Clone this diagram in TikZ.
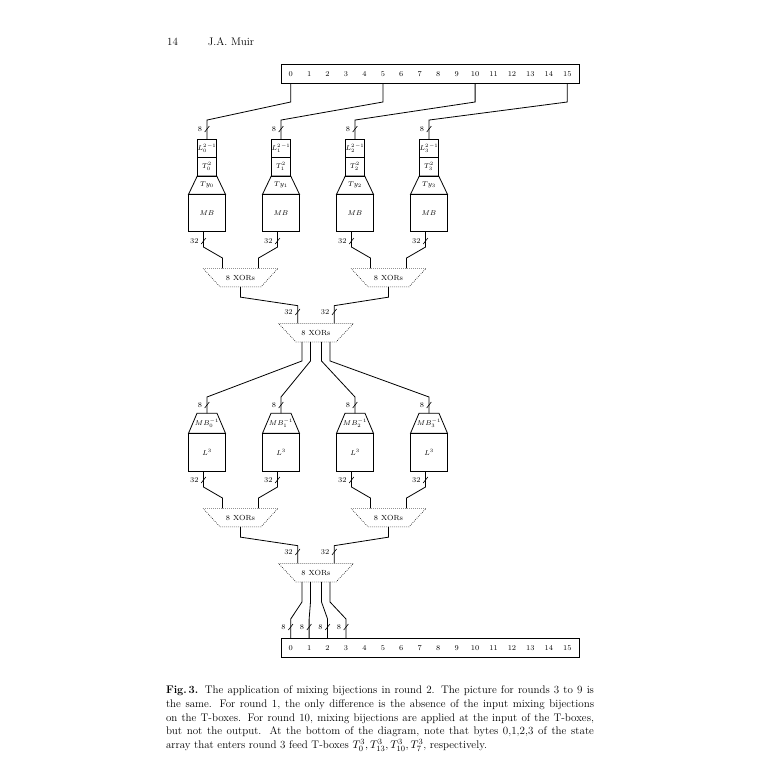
\documentclass[tikz,border=0pt]{standalone}
\usetikzlibrary{calc}

\tikzset{
  every node/.style={font=\fontsize{7.4}{8}\selectfont, inner sep=0pt, outer sep=0pt},
  wire/.style={line width=0.8pt},
  statebox/.style={draw, line width=0.8pt, rectangle, minimum width=298pt, minimum height=19pt},
  lbox/.style={draw, line width=0.8pt, rectangle, minimum width=19.5pt, minimum height=18.5pt},
  mbbox/.style={draw, line width=0.8pt, rectangle, minimum width=37pt, minimum height=36.7pt},
  tybox/.style={rectangle, minimum width=37pt, minimum height=18.3pt},
  mbibox/.style={rectangle, minimum width=37pt, minimum height=20pt},
  xorbox/.style={rectangle, minimum width=75pt, minimum height=18.5pt},
  xorline/.style={line width=0.6pt, dash pattern=on 0.7pt off 1.3pt},
  bytenum/.style={anchor=base, text height=4.8pt, text depth=0pt},
}

% slash on a bus, with its width
\newcommand\busmark[2]{%
  \draw[line width=0.6pt] #1 ++(-2.3,3) -- ++(4.6,-6);
  \node[anchor=east, xshift=-5pt] at #1 {#2};}
% outline of a trapezoid round a node: top inset, bottom inset
\newcommand\trapdraw[4][line width=0.8pt]{%
  \draw[#1] ($(#2.north west)+(#3,0)$) -- ($(#2.north east)+(-#3,0)$)
    -- ($(#2.south east)+(-#4,0)$) -- ($(#2.south west)+(#4,0)$) -- cycle;}

\begin{document}
\begin{tikzpicture}[x=1pt,y=-1pt]
\useasboundingbox (0,0) rectangle (758,776);

% page head
\node[font=\fontsize{11}{13}\selectfont] (pageno) at (172.5,42) {14};
\node[font=\fontsize{11}{13}\selectfont] (author) at (231,42) {J.A. Muir};

% state arrays
\node[statebox] (inarr) at (430,74) {};
\node[statebox] (outarr) at (430,648) {};
\foreach \i in {0,...,15} {
  \node[bytenum] (in\i) at ({290.7+18.44*\i},76.9) {\i};
  \node[bytenum] (out\i) at ({290.7+18.44*\i},650.9) {\i};
}

% T-boxes of round 2
\node[lbox] (L0) at (207,148.3) {${L_0^2}^{-1}$};
\node[lbox] (L1) at (281,148.3) {${L_1^2}^{-1}$};
\node[lbox] (L2) at (355,148.3) {${L_2^2}^{-1}$};
\node[lbox] (L3) at (429,148.3) {${L_3^2}^{-1}$};
\node[lbox] (T0) at (207,166.8) {$T_0^2$};
\node[lbox] (T1) at (281,166.8) {$T_1^2$};
\node[lbox] (T2) at (355,166.8) {$T_2^2$};
\node[lbox] (T3) at (429,166.8) {$T_3^2$};
\node[tybox] (Ty0) at (207,185.2) {$Ty_0$};
\node[tybox] (Ty1) at (281,185.2) {$Ty_1$};
\node[tybox] (Ty2) at (355,185.2) {$Ty_2$};
\node[tybox] (Ty3) at (429,185.2) {$Ty_3$};
\trapdraw{Ty0}{8.75}{0}
\trapdraw{Ty1}{8.75}{0}
\trapdraw{Ty2}{8.75}{0}
\trapdraw{Ty3}{8.75}{0}
\node[mbbox] (MB0) at (207,212.7) {$MB$};
\node[mbbox] (MB1) at (281,212.7) {$MB$};
\node[mbbox] (MB2) at (355,212.7) {$MB$};
\node[mbbox] (MB3) at (429,212.7) {$MB$};

% XOR tables
\node[xorbox] (xorA) at (240.5,277.6) {8 XORs};
\node[xorbox] (xorB) at (388.5,277.6) {8 XORs};
\node[xorbox] (xorAB) at (316,332.7) {8 XORs};
\trapdraw[xorline]{xorA}{0}{17}
\trapdraw[xorline]{xorB}{0}{17}
\trapdraw[xorline]{xorAB}{0}{17.5}

% mixing bijections removed
\node[mbibox] (MBi0) at (207,423.3) {$MB_0^{-1}$};
\node[mbibox] (MBi1) at (281,423.3) {$MB_1^{-1}$};
\node[mbibox] (MBi2) at (355,423.3) {$MB_2^{-1}$};
\node[mbibox] (MBi3) at (429,423.3) {$MB_3^{-1}$};
\trapdraw{MBi0}{8.5}{0}
\trapdraw{MBi1}{8.5}{0}
\trapdraw{MBi2}{8.5}{0}
\trapdraw{MBi3}{8.5}{0}
\node[mbbox, minimum height=38.4pt] (LL0) at (207,452.5) {$L^3$};
\node[mbbox, minimum height=38.4pt] (LL1) at (281,452.5) {$L^3$};
\node[mbbox, minimum height=38.4pt] (LL2) at (355,452.5) {$L^3$};
\node[mbbox, minimum height=38.4pt] (LL3) at (429,452.5) {$L^3$};
\foreach \i in {0,...,3}
  \draw[line width=1.5pt] (LL\i.north west) -- (LL\i.north east);

\node[xorbox] (xorC) at (240.5,517.6) {8 XORs};
\node[xorbox] (xorD) at (388.5,517.6) {8 XORs};
\node[xorbox] (xorCD) at (316,572.7) {8 XORs};
\trapdraw[xorline]{xorC}{0}{17}
\trapdraw[xorline]{xorD}{0}{17}
\trapdraw[xorline]{xorCD}{0}{17.5}

% bytes 0,5,10,15 into the T-boxes
\draw[wire] (in0 |- inarr.south) -- ++(0,18.5) -- ($(L0.north)+(0,-19)$) -- (L0.north);
\draw[wire] (in5 |- inarr.south) -- ++(0,18.5) -- ($(L1.north)+(0,-19)$) -- (L1.north);
\draw[wire] (in10 |- inarr.south) -- ++(0,18.5) -- ($(L2.north)+(0,-19)$) -- (L2.north);
\draw[wire] (in15 |- inarr.south) -- ++(0,18.5) -- ($(L3.north)+(0,-19)$) -- (L3.north);
\busmark{($(L0.north)+(0,-10)$)}{8}
\busmark{($(L1.north)+(0,-10)$)}{8}
\busmark{($(L2.north)+(0,-10)$)}{8}
\busmark{($(L3.north)+(0,-10)$)}{8}

% T-box outputs to the XORs
\draw[wire] ($(MB0.south)+(-3.5,0)$) -- ++(0,16) -- ($(xorA.north)+(-18,-10.3)$) -- ($(xorA.north)+(-18,0)$);
\draw[wire] ($(MB1.south)+(-3.5,0)$) -- ++(0,16) -- ($(xorA.north)+(18,-10.3)$) -- ($(xorA.north)+(18,0)$);
\draw[wire] ($(MB2.south)+(-3.5,0)$) -- ++(0,16) -- ($(xorB.north)+(-18,-10.3)$) -- ($(xorB.north)+(-18,0)$);
\draw[wire] ($(MB3.south)+(-3.5,0)$) -- ++(0,16) -- ($(xorB.north)+(18,-10.3)$) -- ($(xorB.north)+(18,0)$);
\busmark{($(MB0.south)+(-3.5,10)$)}{32}
\busmark{($(MB1.south)+(-3.5,10)$)}{32}
\busmark{($(MB2.south)+(-3.5,10)$)}{32}
\busmark{($(MB3.south)+(-3.5,10)$)}{32}

\draw[wire] (xorA.south) -- ++(0,10.3) -- ($(xorAB.north)+(-18.3,-17.8)$) -- ($(xorAB.north)+(-18.3,0)$);
\draw[wire] (xorB.south) -- ++(0,10.3) -- ($(xorAB.north)+(18.3,-17.8)$) -- ($(xorAB.north)+(18.3,0)$);
\busmark{($(xorAB.north)+(-18.3,-11.5)$)}{32}
\busmark{($(xorAB.north)+(18.3,-11.5)$)}{32}

% four bytes to the inverse mixing bijections
\draw[wire] ($(xorAB.south)+(-14,0)$) -- ++(0,19) -- ($(MBi0.north)+(0,-16.3)$) -- (MBi0.north);
\draw[wire] ($(xorAB.south)+(-5.5,0)$) -- ++(0,19) -- ($(MBi1.north)+(0,-16.3)$) -- (MBi1.north);
\draw[wire] ($(xorAB.south)+(5.5,0)$) -- ++(0,19) -- ($(MBi2.north)+(0,-16.3)$) -- (MBi2.north);
\draw[wire] ($(xorAB.south)+(14,0)$) -- ++(0,19) -- ($(MBi3.north)+(0,-16.3)$) -- (MBi3.north);
\busmark{($(MBi0.north)+(0,-8.3)$)}{8}
\busmark{($(MBi1.north)+(0,-8.3)$)}{8}
\busmark{($(MBi2.north)+(0,-8.3)$)}{8}
\busmark{($(MBi3.north)+(0,-8.3)$)}{8}

\draw[wire] ($(LL0.south)+(-3.5,0)$) -- ++(0,15.3) -- ($(xorC.north)+(-18,-10.3)$) -- ($(xorC.north)+(-18,0)$);
\draw[wire] ($(LL1.south)+(-3.5,0)$) -- ++(0,15.3) -- ($(xorC.north)+(18,-10.3)$) -- ($(xorC.north)+(18,0)$);
\draw[wire] ($(LL2.south)+(-3.5,0)$) -- ++(0,15.3) -- ($(xorD.north)+(-18,-10.3)$) -- ($(xorD.north)+(-18,0)$);
\draw[wire] ($(LL3.south)+(-3.5,0)$) -- ++(0,15.3) -- ($(xorD.north)+(18,-10.3)$) -- ($(xorD.north)+(18,0)$);
\busmark{($(LL0.south)+(-3.5,8.3)$)}{32}
\busmark{($(LL1.south)+(-3.5,8.3)$)}{32}
\busmark{($(LL2.south)+(-3.5,8.3)$)}{32}
\busmark{($(LL3.south)+(-3.5,8.3)$)}{32}

\draw[wire] (xorC.south) -- ++(0,10.3) -- ($(xorCD.north)+(-18.3,-17.8)$) -- ($(xorCD.north)+(-18.3,0)$);
\draw[wire] (xorD.south) -- ++(0,10.3) -- ($(xorCD.north)+(18.3,-17.8)$) -- ($(xorCD.north)+(18.3,0)$);
\busmark{($(xorCD.north)+(-18.3,-11.5)$)}{32}
\busmark{($(xorCD.north)+(18.3,-11.5)$)}{32}

% bytes 0,1,2,3 of the next state
\draw[wire] ($(xorCD.south)+(-14,0)$) -- ++(0,20) -- ($(out0 |- outarr.north)+(0,-19.5)$) -- (out0 |- outarr.north);
\draw[wire] ($(xorCD.south)+(-5.5,0)$) -- ++(0,20) -- ($(out1 |- outarr.north)+(0,-19.5)$) -- (out1 |- outarr.north);
\draw[wire] ($(xorCD.south)+(5.5,0)$) -- ++(0,20) -- ($(out2 |- outarr.north)+(0,-19.5)$) -- (out2 |- outarr.north);
\draw[wire] ($(xorCD.south)+(14,0)$) -- ++(0,20) -- ($(out3 |- outarr.north)+(0,-19.5)$) -- (out3 |- outarr.north);
\busmark{($(out0 |- outarr.north)+(0,-11.5)$)}{8}
\busmark{($(out1 |- outarr.north)+(0,-11.5)$)}{8}
\busmark{($(out2 |- outarr.north)+(0,-11.5)$)}{8}
\busmark{($(out3 |- outarr.north)+(0,-11.5)$)}{8}

% caption
\node[anchor=north west, text width=428pt, align=justify, font=\fontsize{11}{13.7}\selectfont] (caption) at (166,686)
  {\textbf{Fig.\,3.} The application of mixing bijections in round 2. The picture for rounds 3 to 9 is\linebreak
   the same. For round 1, the only difference is the absence of the input mixing bijections\linebreak
   on the T-boxes. For round 10, mixing bijections are applied at the input of the T-boxes,\linebreak
   but not the output. At the bottom of the diagram, note that bytes 0,1,2,3 of the state\linebreak
   array that enters round 3 feed T-boxes $T_0^3, T_{13}^3, T_{10}^3, T_7^3$, respectively.};
\end{tikzpicture}
\end{document}
